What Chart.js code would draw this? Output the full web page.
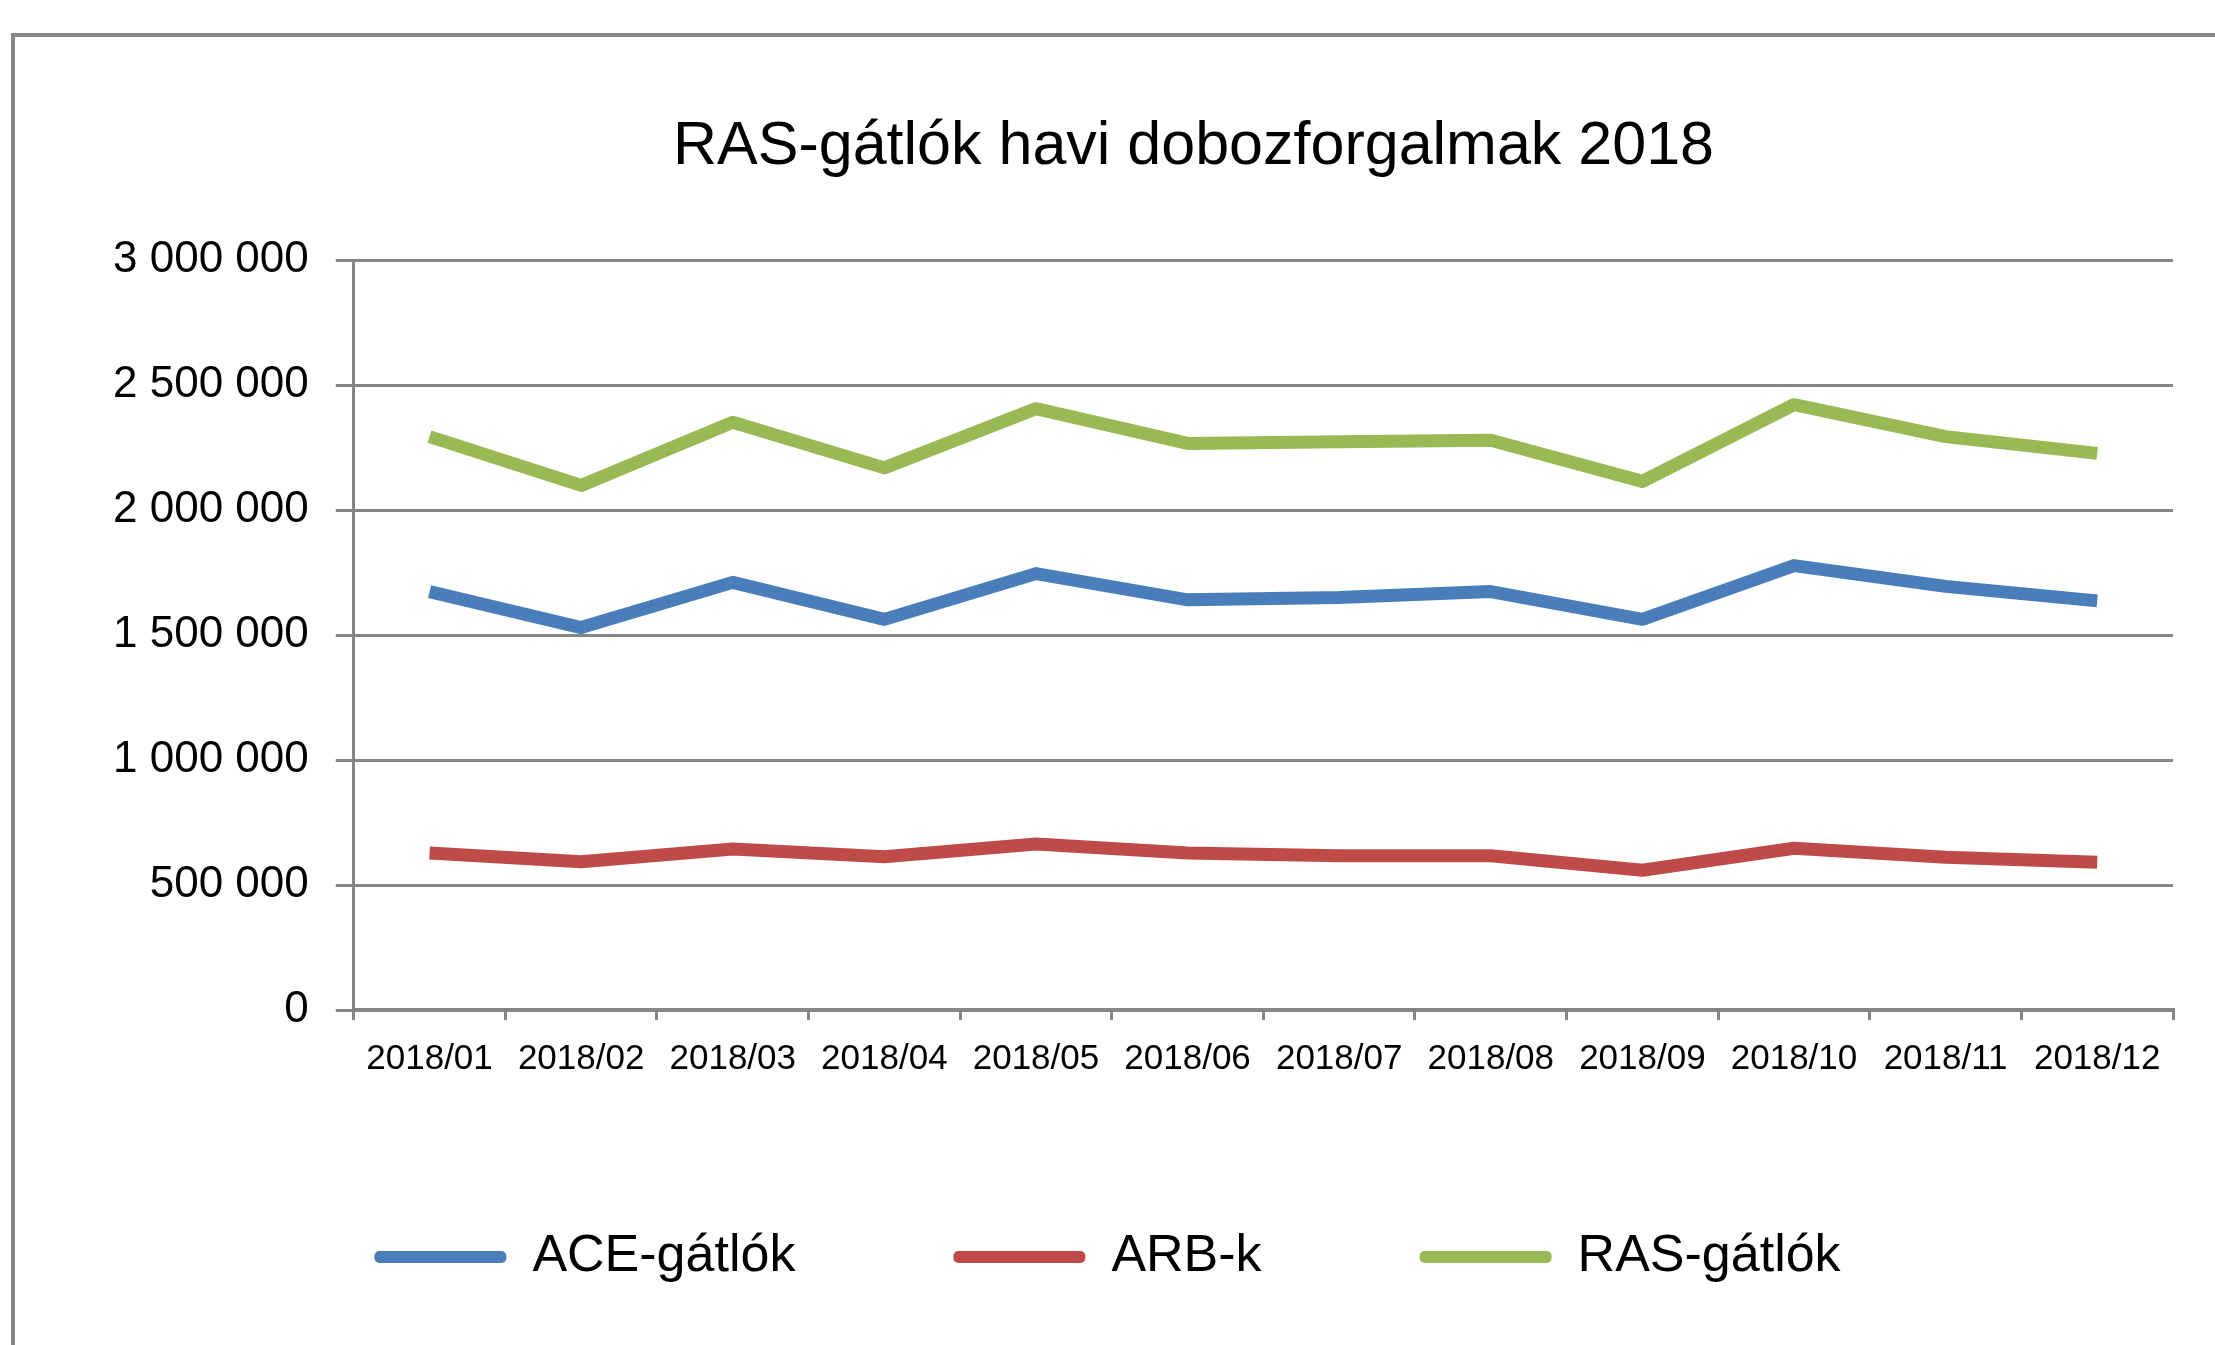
<!DOCTYPE html>
<html lang="hu">
<head>
    <meta charset="UTF-8">
    <title>RAS-gátlók havi dobozforgalmak 2018</title>
    <script src="https://cdn.jsdelivr.net/npm/chart.js"></script>
    <style>
        body {
            margin: 0;
            padding: 0;
            background-color: #ffffff;
            overflow: hidden;
        }

        .frame {
            position: absolute;
            left: 11px;
            top: 33px;
            width: 2400px;
            height: 1500px;
            border-left: 4px solid #878787;
            border-top: 4px solid #878787;
        }

        .chart-box {
            position: absolute;
            left: 0;
            top: 0;
            width: 2215px;
            height: 1345px;
        }
    </style>
</head>
<body>
    <div class="frame"></div>
    <div class="chart-box">
        <canvas id="rasChart"></canvas>
    </div>

    <script>
        // Months on the x axis
        const months = ["2018/01", "2018/02", "2018/03", "2018/04", "2018/05", "2018/06",
                        "2018/07", "2018/08", "2018/09", "2018/10", "2018/11", "2018/12"];

        // Monthly box sales
        const aceValues = [1674000, 1530000, 1711000, 1563000, 1746000, 1641000,
                           1650000, 1674000, 1563000, 1778000, 1695000, 1637000];
        const arbValues = [628000, 593000, 644000, 613000, 664000, 628000,
                           617000, 617000, 559000, 647000, 611000, 591000];
        const rasValues = [2294000, 2099000, 2352000, 2169000, 2406000, 2267000,
                           2274000, 2280000, 2115000, 2422000, 2294000, 2227000];

        const seriesNames = ["ACE-gátlók", "ARB-k", "RAS-gátlók"];
        const seriesColors = ["#4A7EBB", "#BE4B48", "#98B954"];

        const gridColor = '#868686';
        const fontFamily = "'Liberation Sans', Arial, sans-serif";

        // Y tick labels use a space as thousands separator: "2 500 000"
        function formatTick(value) {
            return String(value).replace(/\B(?=(\d{3})+(?!\d))/g, ' ');
        }

        function makeDataset(name, values, color) {
            return {
                label: name,
                data: values,
                borderColor: color,
                backgroundColor: color,
                borderWidth: 13,
                borderJoinStyle: 'round',
                pointRadius: 0,
                pointHoverRadius: 0,
                tension: 0,
                fill: false
            };
        }

        // The original title and legend sit a bit off the canvas centre;
        // also let the x labels draw below the (shortened) x axis box
        const shiftBlocks = {
            id: 'shiftBlocks',
            afterLayout(chart) {
                chart.titleBlock.left += 64;
                chart.titleBlock.right += 64;
                chart.legend.left -= 22;
                chart.legend.right -= 22;
                chart.scales.x.bottom = chart.height;
            }
        };

        const ctx = document.getElementById('rasChart').getContext('2d');

        const chart = new Chart(ctx, {
            type: 'line',
            data: {
                labels: months,
                datasets: [
                    makeDataset(seriesNames[0], aceValues, seriesColors[0]),
                    makeDataset(seriesNames[1], arbValues, seriesColors[1]),
                    makeDataset(seriesNames[2], rasValues, seriesColors[2])
                ]
            },
            options: {
                responsive: true,
                maintainAspectRatio: false,
                animation: false,
                layout: {
                    padding: { left: 86, right: 42, top: 0, bottom: 52 }
                },
                plugins: {
                    title: {
                        display: true,
                        text: 'RAS-gátlók havi dobozforgalmak 2018',
                        color: '#000000',
                        font: { family: fontFamily, size: 61, weight: 'normal' },
                        padding: { top: 111, bottom: 76 }
                    },
                    legend: {
                        position: 'bottom',
                        labels: {
                            color: '#000000',
                            font: { family: fontFamily, size: 52 },
                            boxWidth: 132,
                            boxHeight: 12,
                            padding: 158,
                            useBorderRadius: true,
                            borderRadius: 5,
                            generateLabels: function (chart) {
                                const items = Chart.defaults.plugins.legend.labels.generateLabels(chart);
                                return items.map(item => ({ ...item, lineWidth: 0 }));
                            }
                        }
                    },
                    tooltip: { enabled: false }
                },
                scales: {
                    x: {
                        offset: true,
                        afterFit: function (scale) {
                            scale.height = 63;
                        },
                        grid: {
                            offset: true,
                            drawOnChartArea: false,
                            color: gridColor,
                            lineWidth: 3,
                            tickLength: 10
                        },
                        border: { color: gridColor, width: 4 },
                        ticks: {
                            color: '#000000',
                            font: { family: fontFamily, size: 35 },
                            padding: 18,
                            maxRotation: 0,
                            autoSkip: false
                        }
                    },
                    y: {
                        min: 0,
                        max: 3000000,
                        grid: {
                            color: gridColor,
                            lineWidth: 3,
                            tickLength: 18
                        },
                        border: { color: gridColor, width: 3 },
                        ticks: {
                            stepSize: 500000,
                            color: '#000000',
                            font: { family: fontFamily, size: 44 },
                            padding: 27,
                            callback: formatTick
                        }
                    }
                }
            },
            plugins: [shiftBlocks]
        });
    </script>
</body>
</html>
